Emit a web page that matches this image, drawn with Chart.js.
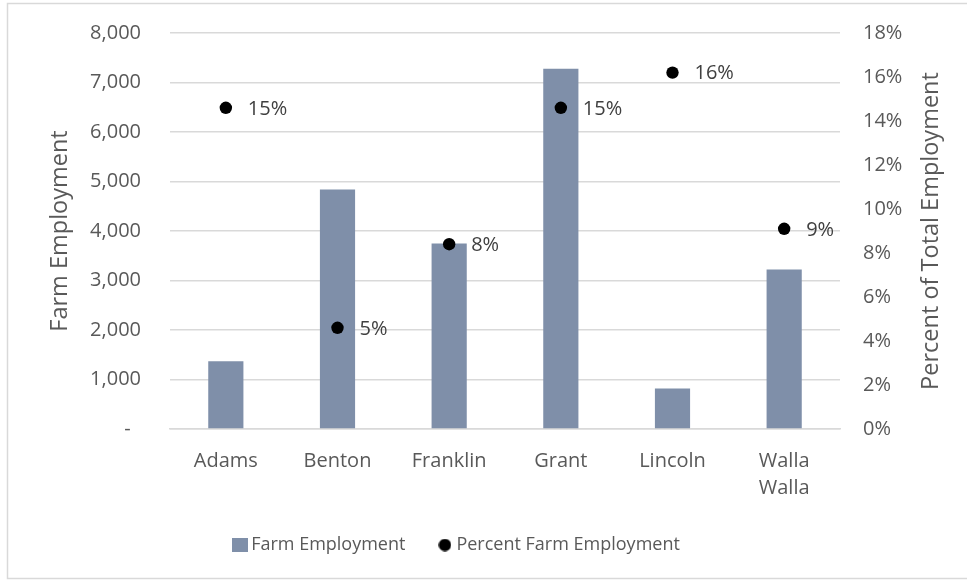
<!DOCTYPE html>
<html>
<head>
<meta charset="utf-8">
<script src="https://cdn.jsdelivr.net/npm/chart.js@4"></script>
<style>
  html, body { margin: 0; padding: 0; background: #fff; overflow: hidden; }
  #wrap { width: 967px; height: 581px; }
</style>
</head>
<body>
<div id="wrap"><canvas id="farmChart" width="967" height="581"></canvas></div>
<script>
const counties = ['Adams', 'Benton', 'Franklin', 'Grant', 'Lincoln', ['Walla', 'Walla']]
const farmEmployment = [1370, 4840, 3750, 7280, 820, 3220]
const percentFarm = [14.6, 4.6, 8.4, 14.6, 16.2, 9.1]

const FONT = "'Open Sans', sans-serif"
const TEXT = '#595959'
const GRID = '#d9d9d9'
const BAR = '#7f8fa9'

// small legend icons: gray square and black dot
const makeIcon = (w, h, draw) => {
    const c = document.createElement('canvas')
    c.width = w
    c.height = h
    draw(c.getContext('2d'))
    return c
}
const squareIcon = makeIcon(16, 14, ctx => { ctx.fillStyle = BAR; ctx.fillRect(0, 0, 16, 14) })
const dotIcon = makeIcon(13, 13, ctx => {
    ctx.fillStyle = '#000'
    ctx.beginPath()
    ctx.arc(6.5, 6.5, 6.2, 0, Math.PI * 2)
    ctx.fill()
})

// "15%" style labels next to each dot
const pointLabels = {
    id: 'pointLabels',
    afterDatasetsDraw(chart) {
        const ctx = chart.ctx
        const meta = chart.getDatasetMeta(1)
        ctx.save()
        ctx.font = '20px ' + FONT
        ctx.fillStyle = '#404040'
        ctx.textAlign = 'left'
        ctx.textBaseline = 'middle'
        meta.data.forEach((pt, i) => {
            ctx.fillText(Math.round(percentFarm[i]) + '%', pt.x + 22, pt.y + 1)
        })
        ctx.restore()
    }
}

// right axis title, reading bottom to top
const rightTitle = {
    id: 'rightTitle',
    afterDraw(chart) {
        const ctx = chart.ctx
        const area = chart.chartArea
        ctx.save()
        ctx.translate(931, (area.top + area.bottom) / 2)
        ctx.rotate(-Math.PI / 2)
        ctx.font = '23.5px ' + FONT
        ctx.fillStyle = TEXT
        ctx.textAlign = 'center'
        ctx.textBaseline = 'middle'
        ctx.fillText('Percent of Total Employment', 0, 0)
        ctx.restore()
    }
}

// thin frame round the whole chart
const frame = {
    id: 'frame',
    beforeDraw(chart) {
        const ctx = chart.ctx
        ctx.save()
        ctx.strokeStyle = GRID
        ctx.lineWidth = 1.5
        ctx.strokeRect(7.5, 3.5, 980, 575)
        ctx.restore()
    }
}

new Chart('farmChart', {
    data: {
        labels: counties,
        datasets: [
            {
                type: 'bar',
                label: 'Farm Employment',
                data: farmEmployment,
                backgroundColor: BAR,
                yAxisID: 'y',
                barPercentage: 0.315,
                categoryPercentage: 1,
                order: 2
            },
            {
                type: 'line',
                label: 'Percent Farm Employment',
                data: percentFarm,
                yAxisID: 'y1',
                showLine: false,
                pointRadius: 6.2,
                pointHoverRadius: 6.2,
                pointBackgroundColor: '#000',
                pointBorderWidth: 0,
                order: 1
            }
        ]
    },
    options: {
        responsive: false,
        animation: false,
        layout: { padding: { top: 33, left: 0, right: 50, bottom: 17 } },
        plugins: {
            tooltip: { enabled: false },
            legend: {
                position: 'bottom',
                labels: {
                    usePointStyle: true,
                    pointStyleWidth: 5,
                    padding: 37,
                    color: TEXT,
                    font: { family: FONT, size: 18 },
                    generateLabels: () => [
                        { text: 'Farm Employment', pointStyle: squareIcon, fontColor: TEXT, datasetIndex: 0, lineWidth: 0 },
                        { text: 'Percent Farm Employment', pointStyle: dotIcon, fontColor: TEXT, datasetIndex: 1, lineWidth: 0 }
                    ]
                }
            }
        },
        scales: {
            x: {
                grid: { display: false, drawTicks: false },
                border: { color: GRID, width: 1.5 },
                ticks: { color: TEXT, padding: 18.5, font: { family: FONT, size: 20, lineHeight: 1.35 }, maxRotation: 0 },
                afterFit: s => { s.height = 70 }
            },
            y: {
                position: 'left',
                min: 0,
                max: 8000,
                grid: { color: GRID, lineWidth: 1.5, drawTicks: true, tickLength: 29, tickColor: 'transparent' },
                border: { display: false },
                ticks: {
                    stepSize: 1000,
                    padding: 0,
                    color: TEXT,
                    font: { family: FONT, size: 20 },
                    callback: v => v === 0 ? '-  ' : v.toLocaleString('en-US')
                },
                title: { display: true, text: 'Farm Employment', color: TEXT, padding: { top: 46, bottom: 0 }, font: { family: FONT, size: 23.5 } },
                afterFit: s => { s.width = 170 }
            },
            y1: {
                position: 'right',
                min: 0,
                max: 18,
                grid: { display: false, drawTicks: true, tickLength: 23 },
                border: { display: false },
                ticks: {
                    stepSize: 2,
                    padding: 0,
                    color: TEXT,
                    font: { family: FONT, size: 20 },
                    callback: v => v + '%'
                },
                afterFit: s => { s.width = 77 }
            }
        }
    },
    plugins: [pointLabels, rightTitle, frame]
})
</script>
</body>
</html>
